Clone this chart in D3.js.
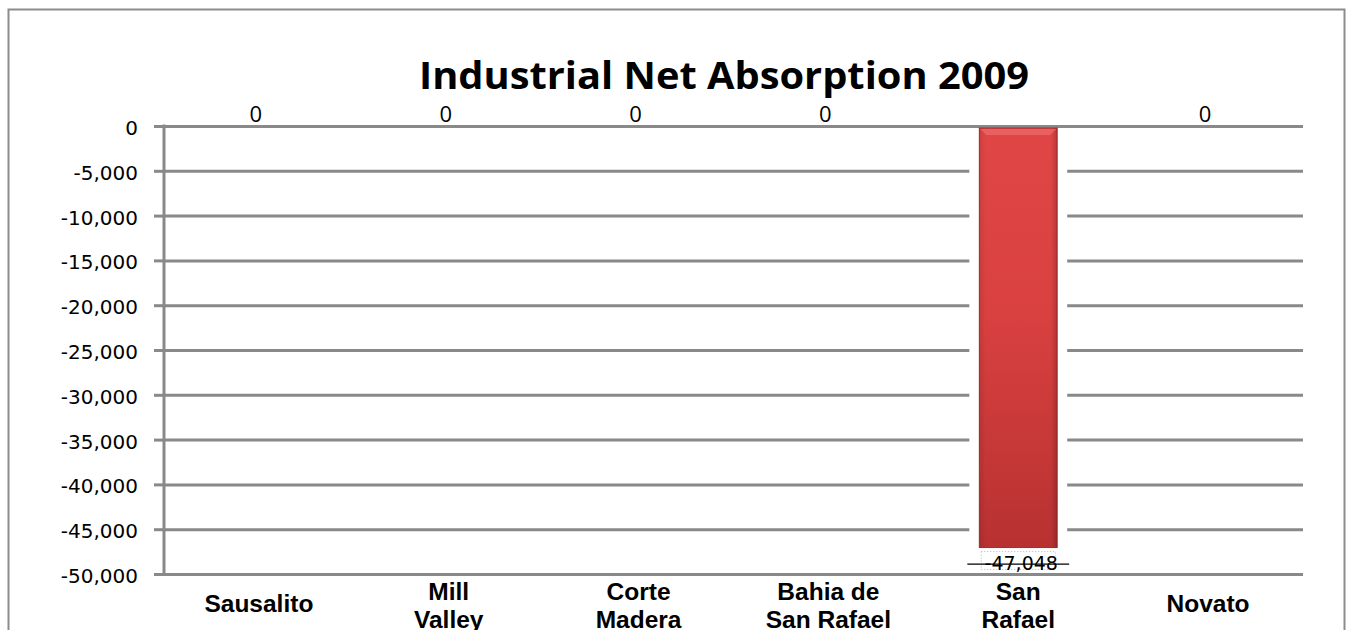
<!DOCTYPE html>
<html>
<head>
<meta charset="utf-8">
<script src="https://cdn.jsdelivr.net/npm/d3@7/dist/d3.min.js"></script>
<style>
  html, body { margin: 0; padding: 0; background: #fff; }
  svg { display: block; }
</style>
</head>
<body>
<svg id="chart" width="1346" height="630"></svg>
<script>
// ---- data ----
const title = "Industrial Net Absorption 2009";
const categories = ["Sausalito", "Mill Valley", "Corte Madera", "Bahia de San Rafael", "San Rafael", "Novato"];
const categoryLines = [["Sausalito"], ["Mill", "Valley"], ["Corte", "Madera"], ["Bahia de", "San Rafael"], ["San", "Rafael"], ["Novato"]];
const values = [0, 0, 0, 0, -47048, 0];
const tickValues = [0, -5000, -10000, -15000, -20000, -25000, -30000, -35000, -40000, -45000, -50000];

// ---- layout ----
const plot = { left: 164, right: 1303, top: 126, bottom: 574 };
const gridColor = "#898989";

const svg = d3.select("#chart");

// gradients for bar
const defs = svg.append("defs");
const grad = defs.append("linearGradient").attr("id", "barGrad")
  .attr("x1", 0).attr("y1", 0).attr("x2", 0).attr("y2", 1);
grad.append("stop").attr("offset", "0%").attr("stop-color", "#e04646");
grad.append("stop").attr("offset", "45%").attr("stop-color", "#d94040");
grad.append("stop").attr("offset", "100%").attr("stop-color", "#b83131");
const gradH = defs.append("linearGradient").attr("id", "barGradH")
  .attr("x1", 0).attr("y1", 0).attr("x2", 1).attr("y2", 0);
gradH.append("stop").attr("offset", "0%").attr("stop-color", "#000").attr("stop-opacity", 0.10);
gradH.append("stop").attr("offset", "8%").attr("stop-color", "#000").attr("stop-opacity", 0);
gradH.append("stop").attr("offset", "92%").attr("stop-color", "#000").attr("stop-opacity", 0);
gradH.append("stop").attr("offset", "100%").attr("stop-color", "#000").attr("stop-opacity", 0.18);

// outer border
svg.append("rect")
  .attr("x", 8.5).attr("y", 9.5).attr("width", 1336).attr("height", 640)
  .attr("fill", "none").attr("stroke", "#8c8c8c").attr("stroke-width", 2);

// scales
const x = d3.scaleBand().domain(categories).range([plot.left, plot.right])
  .paddingInner(0.59).paddingOuter(0.295);
const band = d3.scaleBand().domain(categories).range([plot.left, plot.right]);
const y = d3.scaleLinear().domain([-50000, 0]).range([plot.bottom, plot.top]);

// gridlines
const grid = svg.append("g").attr("transform", `translate(${plot.left},0)`)
  .call(d3.axisLeft(y).tickValues(tickValues).tickSize(-(plot.right - plot.left)).tickFormat(""));
grid.select(".domain").remove();
grid.selectAll("line").attr("stroke", gridColor).attr("stroke-width", 3);

// y axis
const yAxis = svg.append("g").attr("transform", `translate(${plot.left},0)`)
  .call(d3.axisLeft(y).tickValues(tickValues).tickSize(10).tickSizeOuter(0).tickPadding(16)
    .tickFormat(d3.format(",")));
yAxis.select(".domain").attr("stroke", gridColor).attr("stroke-width", 3)
  .attr("d", `M0,${plot.top - 1.5}V${plot.bottom + 1.5}`);
yAxis.selectAll(".tick line").attr("stroke", gridColor).attr("stroke-width", 3);
yAxis.selectAll(".tick text")
  .attr("font-family", "DejaVu Sans, Verdana, sans-serif").attr("font-size", 20)
  .attr("fill", "#000").attr("dy", "0.42em").text(d => d3.format(",")(d).replace("−", "-"));

// bars
const bw = x.bandwidth();
const barG = svg.append("g");
categories.forEach((c, i) => {
  const v = values[i];
  if (v === 0) return;
  const x0 = x(c), y0 = y(0), y1 = y(v);
  barG.append("rect")
    .attr("x", x0 - 10).attr("y", y0 + 2).attr("width", bw + 20).attr("height", y1 - y0 - 2)
    .attr("fill", "#fff");
  barG.append("rect")
    .attr("x", x0).attr("y", y0 + 2).attr("width", bw).attr("height", y1 - y0 - 2)
    .attr("fill", "url(#barGrad)").attr("stroke", "#a52a2a").attr("stroke-width", 1);
  barG.append("rect")
    .attr("x", x0).attr("y", y0 + 2).attr("width", bw).attr("height", y1 - y0 - 2)
    .attr("fill", "url(#barGradH)");
  barG.append("path")
    .attr("d", `M${x0 + 1},${y0 + 3}H${x0 + bw - 1}L${x0 + bw - 7},${y0 + 9}H${x0 + 7}Z`)
    .attr("fill", "#ec6a6a").attr("opacity", 0.75);
  const lx = x0 + bw / 2;
  barG.append("rect")
    .attr("x", lx - 37).attr("y", y1 + 4).attr("width", 74).attr("height", 18)
    .attr("fill", "none").attr("stroke", "#b5b5b5").attr("stroke-width", 1)
    .attr("stroke-dasharray", "1,2");
});

// data labels
svg.append("g").selectAll("text")
  .data(categories.map((c, i) => ({ c, v: values[i] })))
  .join("text")
  .attr("x", d => x(d.c) + bw / 2 - (d.v === 0 ? 3 : -3))
  .attr("y", d => d.v === 0 ? y(0) - 4 : y(d.v) + 22)
  .attr("text-anchor", "middle")
  .attr("font-family", d => d.v === 0 ? "Open Sans, sans-serif" : "DejaVu Sans, Verdana, sans-serif")
  .attr("font-size", d => d.v === 0 ? 22 : 19)
  .attr("fill", "#000")
  .text(d => d3.format(",")(d.v).replace("−", "-"));

// strike line through the negative label
categories.forEach((c, i) => {
  if (values[i] === 0) return;
  const x0 = x(c);
  svg.append("line")
    .attr("x1", x0 - 12).attr("x2", x0 + bw + 12)
    .attr("y1", y(values[i]) + 16.5).attr("y2", y(values[i]) + 16.5)
    .attr("stroke", "#000").attr("stroke-width", 1.2);
});

// category labels
const catG = svg.append("g");
categories.forEach((c, i) => {
  const cx = band(c) + band.bandwidth() / 2;
  const lines = categoryLines[i];
  const t = catG.append("text")
    .attr("text-anchor", "middle")
    .attr("font-family", "Liberation Sans, Arial, sans-serif")
    .attr("font-weight", "bold").attr("font-size", 24.5).attr("fill", "#000");
  const first = 612 - (lines.length - 1) * 12;
  lines.forEach((ln, k) => {
    t.append("tspan").attr("x", cx).attr("y", first + k * 28).text(ln);
  });
});

// title
svg.append("text")
  .attr("x", 724).attr("y", 89)
  .attr("text-anchor", "middle")
  .attr("font-family", "Open Sans, sans-serif")
  .attr("font-weight", "bold").attr("font-size", 38)
  .attr("textLength", 610).attr("lengthAdjust", "spacingAndGlyphs")
  .attr("fill", "#000")
  .text(title);
</script>
</body>
</html>
